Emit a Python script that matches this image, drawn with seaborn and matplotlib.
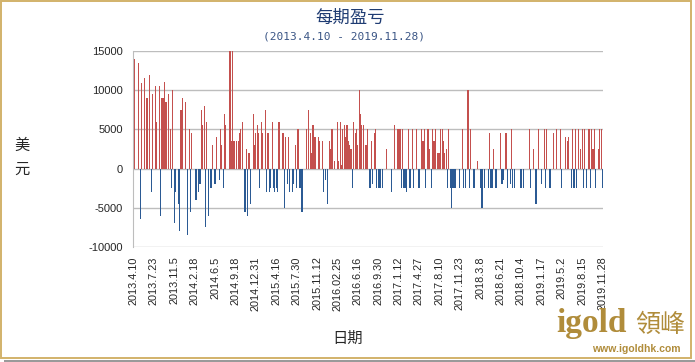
import numpy as np
import pandas as pd
import matplotlib
matplotlib.use('Agg')
import matplotlib.pyplot as plt
import seaborn as sns
from matplotlib.patches import Rectangle

# weekly profit / loss (USD) in six chunks
pnl_a = [7500, 14000, 0, 0, 13500, -6400, 10900, 0, 11500, 0, 9000, 0, 12000, -3000, 9500, 0,
         10500, 6000, 0, 10500, -6000, 9000, 9000, 11000, 8500, 0, 9500, 5000, -2500, 10000,
         -7000, -3000, 0, -4500, -8000, 7500, 9000, 0, 8500, 0, -8500, 5000, -5500, 4500, 0, 0,
         -4000, 0, -3000, -2000, 7500, 5500, 8000, -7500, 6000, -6000, 0, -2500]
pnl_b = [3000, 0, -2000, 4000, 0, -1500, 5000, 3000, -2500, 7000, 5500, 0, 0, 15000, 3500,
         15000, 3500, 0, 3500, 3500, 4500, 5000, 6000, 0, -5500, 2500, -6000, 2000, -4500, 0,
         7000, 3000, 4500, 5500, 4500, -2500, 6000, 4500, 0, 7500, -3000, 4500, -3000, -2500,
         6000, -2500, -3000, -2500, -3000, 6000, 0, 0, 4500, -5000, 4000, -2000, 4000, -3000]
pnl_c = [0, -3000, -2000, 3000, -2500, 5000, -2500, -2500, -5500, 0, 0, 5000, 0, 7500, 4500,
         2000, 5500, 4000, 4000, 0, 4000, 3500, 0, 3500, -3000, -1500, 0, -4500, 3500, 2500,
         5000, 0, 1000, 0, 6000, 1000, 6000, 500, 5000, 5500, 4000, 5500, 3500, 3000, 2500,
         -2500, 6000, 4500, 5000, 3000, 10000, 7000, 5500, 5500, 0, 3000, 5000, 0, -2500, 3500]
pnl_d = [-2000, 4500, 5000, -2500, -2500, -2500, -2500, -2500, 0, 0, 2500, 0, 0, 0, -3000, 0,
         5500, 0, 5000, 5000, 5000, -2500, 5000, -2500, -2500, -3000, 5000, -2500, -2500, 5000,
         -2500, 0, 5000, 0, -2500, 0, 5000, 3500, 5000, -2500, 5000, 5000, 2500, -2500, 5000,
         3500, 5000, 0, 2000, 2000, 5000, 5000, 3500, 2000, 2500, -2500, 5000, -2500]
pnl_e = [-5000, -2500, -2500, -2500, 0, 0, -2500, 0, 5000, -2500, -2500, 0, 10000, -2500, 5000,
         0, -2500, -2500, 0, 1000, 0, -2500, -5000, -5000, -2500, 0, 0, -2500, 4500, -2500,
         -2500, 2500, -2500, -2500, 0, 0, 4500, -2000, -1500, 0, 4500, -2500, 0, -2000, 5000,
         -2500, -2500, 0, 0, 0, 0, -2500, 0, -2500, 0, 0, 0, 5000, -2500]
pnl_f = [0, 2500, 0, -4500, 0, 5000, 0, -2000, 0, 5000, -2500, 5000, 0, -2500, -2500, 0, 4500,
         0, 5000, 0, 0, 5000, -2500, 0, 0, 4000, 3500, 4000, 0, -2500, 5000, -2500, 5000, -2500,
         5000, 0, 2500, 5000, -2500, 5000, -2500, 0, 5000, -2500, 5000, 2500, 5000, -2500, 0,
         2500, 5000, 5000, -2500]

date_labels = ['2013.4.10', '2013.7.23', '2013.11.5', '2014.2.18', '2014.6.5', '2014.9.18',
               '2014.12.31', '2015.4.16', '2015.7.30', '2015.11.12', '2016.02.25', '2016.6.16',
               '2016.9.30', '2017.1.12', '2017.4.27', '2017.8.10', '2017.11.23', '2018.3.8',
               '2018.6.21', '2018.10.4', '2019.1.17', '2019.5.2', '2019.8.15', '2019.11.28']

pnl = pnl_a + pnl_b + pnl_c + pnl_d + pnl_e + pnl_f
df = pd.DataFrame({'week': range(len(pnl)), 'pnl': pnl})
df['side'] = np.where(df['pnl'] >= 0, 'gain', 'loss')

sns.set_style('white')
plt.rcParams['font.family'] = ['Liberation Sans', 'DejaVu Sans']
cjk = ['Noto Sans CJK SC', 'DejaVu Sans']

fig = plt.figure(figsize=(6.95, 3.62), dpi=100)
fig.patch.set_facecolor('white')
ax = fig.add_axes([0.191, 0.318, 0.677, 0.541])

sns.barplot(data=df, x='week', y='pnl', hue='side', dodge=False, errorbar=None,
            palette={'gain': '#C4504E', 'loss': '#2B5A94'}, width=0.85, saturation=1,
            linewidth=0, legend=False, ax=ax)

n = len(pnl)
ax.set_xlim(-0.5, n - 0.5)
ax.set_ylim(-10000, 15000)
ax.set_yticks(range(-10000, 15001, 5000))
ax.set_yticklabels([str(v) for v in range(-10000, 15001, 5000)], fontsize=8)
tick_pos = np.round(np.linspace(0, n - 1, len(date_labels))).astype(int)
ax.set_xticks(tick_pos)
ax.set_xticklabels(date_labels, rotation=90, fontsize=7.8)
ax.tick_params(length=0, pad=7)
ax.set_xlabel('')
ax.set_ylabel('')
ax.yaxis.grid(True, color='#BDBDBD', linewidth=1)
ax.set_axisbelow(True)
for s in ['top', 'right', 'bottom']:
    ax.spines[s].set_visible(False)
ax.spines['left'].set_color('#BDBDBD')

# titles and axis names
fig.text(0.503, 0.950, '每期盈亏', ha='center', va='center', fontsize=12.5,
         color='#1F3C73', family=cjk)
fig.text(0.495, 0.900, '(2013.4.10 - 2019.11.28)', ha='center', va='center', fontsize=8,
         color='#3A5585', family=['DejaVu Sans Mono'])
fig.text(0.032, 0.566, '美\n元', ha='center', va='center', fontsize=11,
         linespacing=1.55, family=cjk)
fig.text(0.500, 0.066, '日期', ha='center', va='center', fontsize=11, family=cjk)

# logo
gold = '#B08C3A'
fig.text(0.851, 0.083, 'igold', ha='center', va='baseline', fontsize=24, fontweight='bold',
         color=gold, family=['Liberation Serif'])
fig.text(0.950, 0.083, '領峰', ha='center', va='baseline', fontsize=18, color=gold,
         family=['Noto Sans CJK TC', 'DejaVu Sans'])
fig.text(0.915, 0.028, 'www.igoldhk.com', ha='center', va='baseline', fontsize=7.5,
         fontweight='bold', color=gold)

# frame
fig.add_artist(Rectangle((0.006, 0.0), 0.994, 0.006, transform=fig.transFigure,
                         facecolor='#9A9A9A', edgecolor='none'))
fig.add_artist(Rectangle((0.002, 0.012), 0.992, 0.984, transform=fig.transFigure,
                         facecolor='none', edgecolor='#D2B26A', linewidth=1.4))

fig.savefig('out.png', dpi=100)
